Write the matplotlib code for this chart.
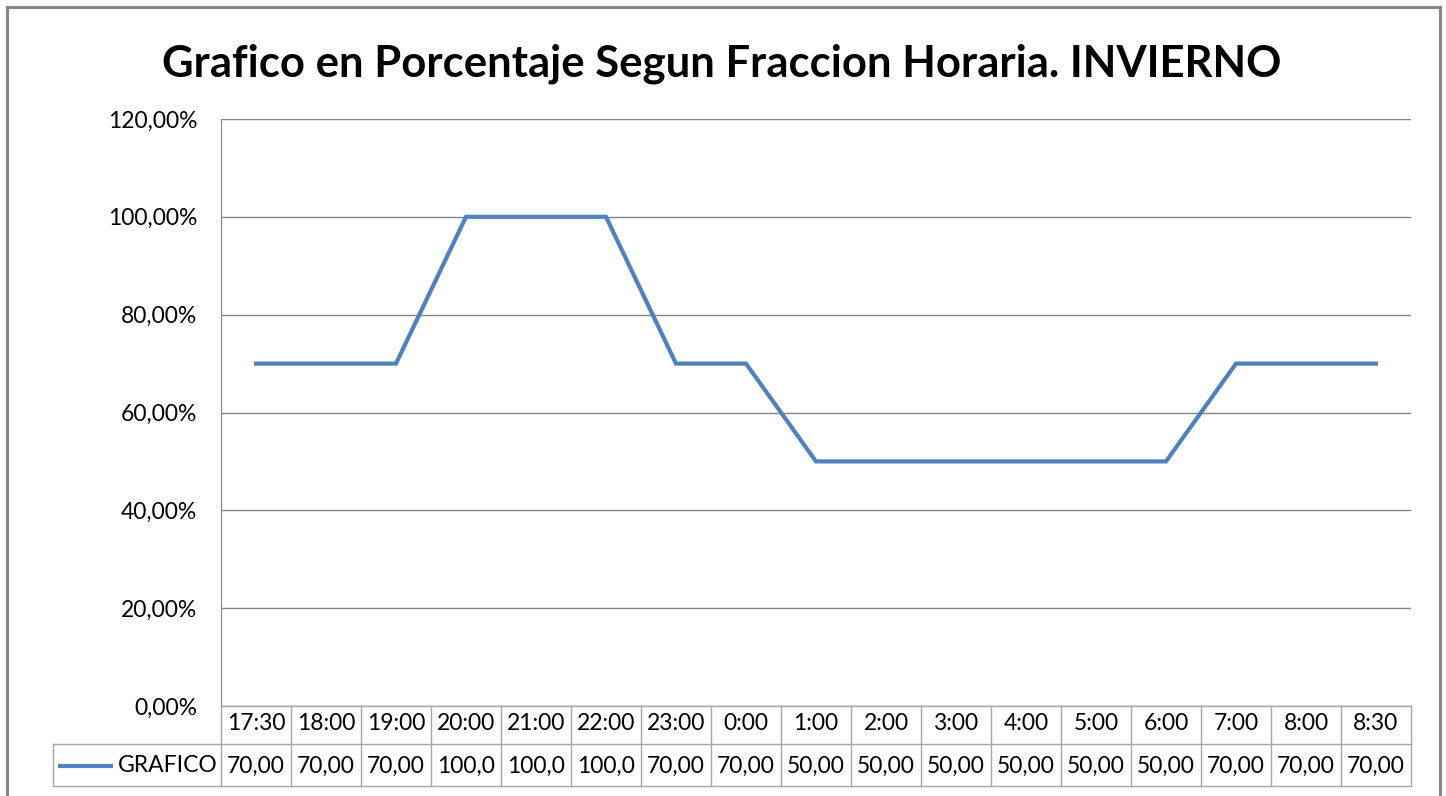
import matplotlib; matplotlib.use("Agg")
import matplotlib.pyplot as plt
from matplotlib.lines import Line2D
from matplotlib.ticker import FuncFormatter

plt.rcParams["font.family"] = ["Lato", "DejaVu Sans"]

horas = ["17:30", "18:00", "19:00", "20:00", "21:00", "22:00", "23:00", "0:00",
         "1:00", "2:00", "3:00", "4:00", "5:00", "6:00", "7:00", "8:00", "8:30"]
grafico = [0.70, 0.70, 0.70, 1.00, 1.00, 1.00, 0.70, 0.70,
           0.50, 0.50, 0.50, 0.50, 0.50, 0.50, 0.70, 0.70, 0.70]
serie = "GRAFICO"
yticks = [0, 0.2, 0.4, 0.6, 0.8, 1.0, 1.2]

W, H = 1446, 796
fig = plt.figure(figsize=(W/100, H/100), dpi=100)

def fx(x): return x / W
def fy(y): return 1 - y / H

LINE = "#4F81BD"; GRID = "#868686"; TAB = "#A6A6A6"
FS = 16.5
n = len(horas)

# plot area: 221..1411 px wide, 119..706 px tall
ax = fig.add_axes([fx(221), fy(706), (1411-221)/W, (706-119)/H])
ax.plot(range(n), grafico, color=LINE, lw=3.0, solid_joinstyle="miter", zorder=3)
ax.set_xlim(-0.5, n-0.5); ax.set_ylim(0, 1.2)
ax.set_yticks(yticks)
ax.yaxis.set_major_formatter(FuncFormatter(lambda v, p: f"{v*100:.2f}%".replace(".", ",")))
ax.tick_params(axis="y", length=0, pad=17, labelsize=FS, labelcolor="#000")
ax.set_xticks([])
ax.grid(axis="y", color=GRID, lw=1.0)
for s in ("top", "right", "bottom"): ax.spines[s].set_visible(False)
ax.spines["left"].set_color(GRID)

# data table below the plot (pixel y coords)
tx0 = -0.5 - (221-53)/70
tab = fig.add_axes([fx(53), fy(787), (1411-53)/W, (787-706)/H])
tab.set_xlim(tx0, n-0.5); tab.set_ylim(787, 706); tab.axis("off")
kw = dict(color=TAB, lw=1.0, clip_on=False)
tab.plot([-0.5, n-0.5], [706, 706], **kw)
tab.plot([tx0, n-0.5], [744, 744], **kw)
tab.plot([tx0, n-0.5], [786, 786], **kw)
tab.plot([tx0, tx0], [744, 786], **kw)
for i in range(n+1):
    tab.plot([i-0.5, i-0.5], [706, 786], **kw)
for i, (h, v) in enumerate(zip(horas, grafico)):
    tab.text(i, 724, h, ha="center", va="center", fontsize=FS)
    tab.text(i, 766, f"{v*100:.2f}".replace(".", ",")[:5], ha="center", va="center", fontsize=FS)
tab.plot([tx0+0.07, tx0+0.86], [766, 766], color=LINE, lw=3.0, solid_capstyle="butt")
tab.text(-0.55, 766, serie, ha="right", va="center", fontsize=FS)

fig.text(fx(722), fy(64), "Grafico en Porcentaje Segun Fraccion Horaria. INVIERNO",
         ha="center", va="center", fontsize=31.4, fontweight="bold")

# chart frame
for xs, ys in (([7, 7], [7, 796]), ([7, 1440], [7, 7]), ([1440, 1440], [7, 796])):
    fig.add_artist(Line2D([fx(x) for x in xs], [fy(y) for y in ys], color="#878787", lw=2.2))

fig.savefig("out.png", dpi=100)
